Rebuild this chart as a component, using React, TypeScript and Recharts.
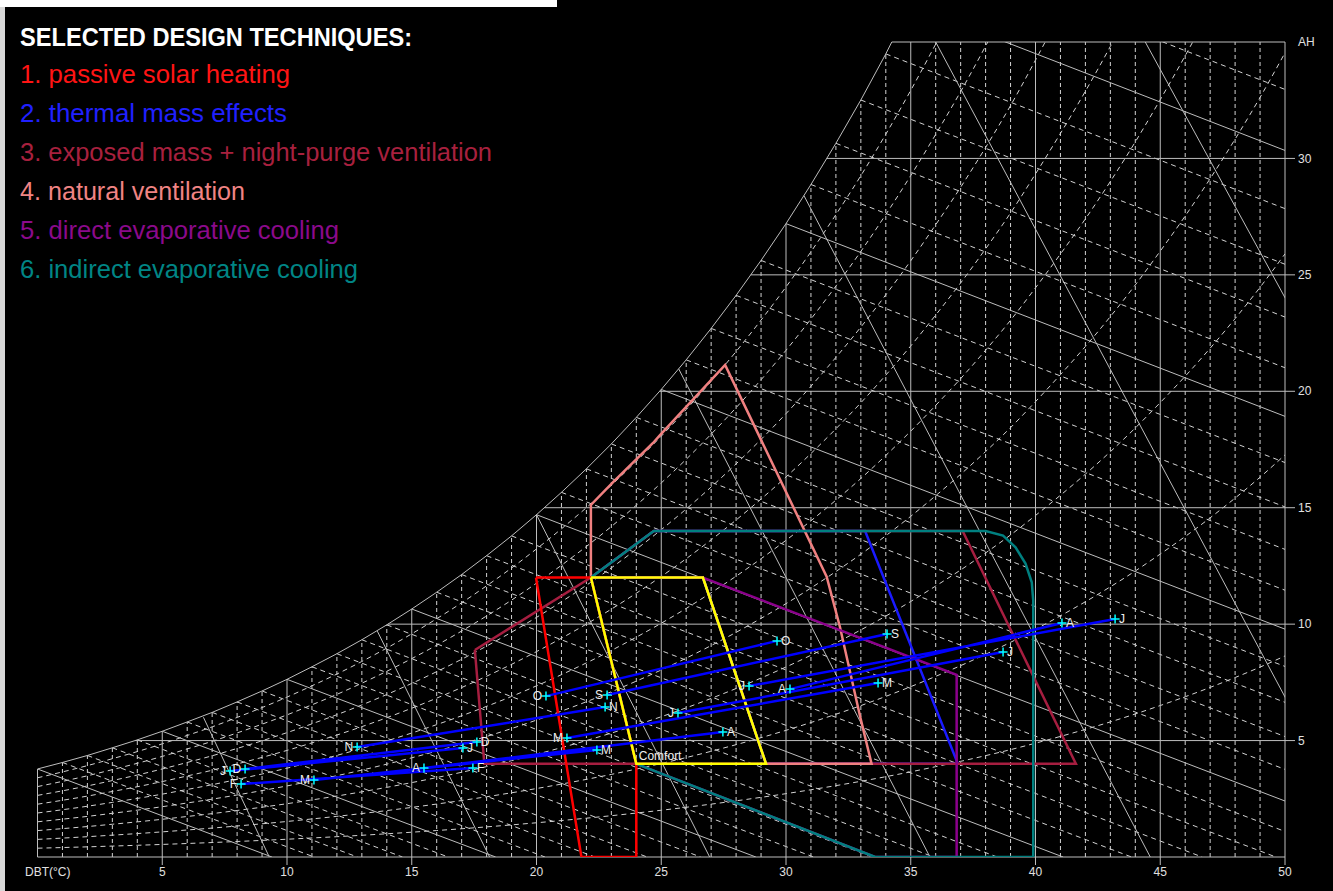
import React from 'react';
import { ComposedChart, Line, Scatter, XAxis, YAxis, ReferenceLine } from 'recharts';

// ---------- axes ----------
const X_TICKS = [0, 5, 10, 15, 20, 25, 30, 35, 40, 45, 50];
const Y_TICKS = [5, 10, 15, 20, 25, 30, 35];

// ---------- saturation curve: absolute humidity (g/kg) at each whole DBT (°C) ----------
const SAT_DBT = [0, 1, 2, 3, 4, 5, 6, 7, 8, 9, 10, 11, 12, 13, 14, 15, 16, 17, 18, 19, 20, 21, 22, 23, 24, 25,
  26, 27, 28, 29, 30, 31, 32, 33, 34, 35, 36, 37, 38, 39, 40, 41, 42, 43, 44, 45, 46, 47, 48, 49, 50];
const SAT_AH = [3.78, 4.06, 4.36, 4.69, 5.03, 5.40, 5.80, 6.21, 6.66, 7.13, 7.63, 8.17, 8.73, 9.33, 9.97, 10.65,
  11.37, 12.13, 12.94, 13.79, 14.70, 15.66, 16.67, 17.74, 18.88, 20.08, 21.35, 22.70, 24.12, 25.62, 27.20,
  28.88, 30.65, 32.51, 34.49, 36.58, 38.79, 41.09, 43.53, 46.10, 48.89, 51.79, 54.81, 58.02, 61.42, 65.05,
  68.82, 72.83, 77.07, 81.55, 86.34];
const SAT_TOP_DBT = 34.24; // saturation curve meets AH 35
// DBT where each AH gridline (5..30) starts on the saturation curve
const H_GRID_AH = [5, 10, 15, 20, 25, 30];
const H_GRID_START = [3.91, 14.05, 20.31, 24.93, 28.59, 31.63];

// ---------- chart grid families ----------
const RH_LEVELS = [0.1, 0.2, 0.3, 0.4, 0.5, 0.6, 0.7, 0.8, 0.9];
const WBT_LEVELS = [0, 1, 2, 3, 4, 5, 6, 7, 8, 9, 10, 11, 12, 13, 14, 15, 16, 17, 18, 19, 20, 21, 22, 23, 24, 25,
  26, 27, 28, 29, 30, 31, 32, 33, 34, 35, 36];
// specific volume lines (0.800 ... 0.950 m³/kg): bottom DBT at AH 0, top end on saturation / top edge
const VOL_BOTTOM_DBT = [9.29, 18.12, 26.94, 35.77, 44.6, 53.42, 62.25];
const VOL_TOP_DBT = [6.65, 13.62, 20.0, 25.7, 30.72, 36.0, 44.4];
const VOL_TOP_AH = [6.0, 9.7, 14.7, 20.96, 28.4, 35, 35];

// ---------- design technique zones (DBT °C, AH g/kg) ----------
const SOLAR_DBT = [19.98, 21.8, 24.0, 24.0, 22.18, 19.98];
const SOLAR_AH = [12, 0, 0, 4, 12, 12];
const THERMAL_DBT = [24.7, 33.17, 36.89, 29.2, 26.67, 22.18, 24.7];
const THERMAL_AH = [14, 14, 4, 4, 12, 12, 14];
const NIGHT_DBT = [17.53, 22.18, 24.7, 37.08, 41.62, 17.91, 17.53];
const NIGHT_AH = [8.89, 12, 14, 14, 4, 4, 8.89];
const NATVENT_DBT = [22.18, 22.18, 23.07, 24.67, 24.95, 27.56, 31.63, 32.16, 32.97, 33.43, 29.2, 26.67, 22.18];
const NATVENT_AH = [12, 15.12, 16.1, 17.78, 18.12, 21.13, 12.04, 9.89, 6.03, 4, 4, 12, 12];
const DIRECT_DBT = [26.67, 36.84, 36.84, 33.57, 24.0, 22.18, 26.67];
const DIRECT_AH = [12, 7.82, 0, 0, 4, 12, 12];
const INDIRECT_DBT = [22.18, 24.7, 38.0, 38.7, 39.2, 39.6, 39.85, 39.91, 39.91, 33.57, 24.0, 22.18];
const INDIRECT_AH = [12, 14, 14, 13.8, 13.3, 12.6, 11.8, 11.0, 0, 0, 4, 12];
const COMFORT_DBT = [22.18, 26.67, 29.2, 24.0, 22.18];
const COMFORT_AH = [12, 12, 4, 4, 12];
const COMFORT_LABEL = { x: 24.1, y: 4.15, text: 'Comfort' };

// ---------- monthly climate lines ----------
const MONTHS = ['J', 'F', 'M', 'A', 'M', 'J', 'J', 'A', 'S', 'O', 'N', 'D'];
const MIN_DBT = [7.72, 8.16, 11.08, 15.49, 21.22, 25.67, 28.52, 30.16, 22.83, 20.38, 12.81, 8.32];
const MIN_AH = [3.69, 3.13, 3.31, 3.82, 5.11, 6.18, 7.34, 7.21, 6.96, 6.91, 4.72, 3.78];
const MAX_DBT = [17.05, 17.45, 22.42, 27.47, 33.69, 38.70, 43.19, 41.06, 34.05, 29.64, 22.75, 17.61];
const MAX_AH = [4.68, 3.82, 4.60, 5.37, 7.47, 8.80, 10.22, 10.05, 9.58, 9.28, 6.44, 4.94];

// ---------- legend ----------
const LEGEND_TITLE = 'SELECTED DESIGN TECHNIQUES:';
const LEGEND_ITEMS = [
  '1. passive solar heating',
  '2. thermal mass effects',
  '3. exposed mass + night-purge ventilation',
  '4. natural ventilation',
  '5. direct evaporative cooling',
  '6. indirect evaporative cooling',
];

// ---------- styles / layout ----------
const COLORS = {
  solar: '#ff0000', thermal: '#1a1aff', night: '#a61e40', natvent: '#f08080',
  direct: '#8b008b', indirect: '#008080', comfort: '#ffff00',
};
const LEGEND_COLORS = ['#ff1414', '#2020ff', '#a8203e', '#f08484', '#8b0a8b', '#008585'];
const LEGEND_WIDTHS = [270, 267, 472, 225, 319, 338];
const GRID_SOLID = '#bdbdbd';
const GRID_DASH = '#d2d2d2';
const FONT = '"Liberation Sans", Arial, sans-serif';
const W = 1333;
const H = 891;

type P = { x: number; y: number | null };
const segs = (list: number[][]): P[] =>
  list.flatMap(([x1, y1, x2, y2]) => [{ x: x1, y: y1 }, { x: x2, y: y2 }, { x: x2, y: null }]);
const poly = (xs: number[], ys: number[]): P[] => xs.map((x, i) => ({ x, y: ys[i] }));

const vDashed = segs(
  SAT_DBT.filter((t) => t > 0 && t < 50 && t % 5 !== 0).map((t) => [t, 0, t, Math.min(SAT_AH[t], 35)]),
);
const vSolid = segs(
  X_TICKS.filter((t) => t > 0 && t < 50).map((t) => [t, 0, t, Math.min(SAT_AH[t], 35)]),
);
const hSolid = segs(H_GRID_AH.map((a, i) => [H_GRID_START[i], a, 50, a]));
const rhCurves: P[] = RH_LEVELS.flatMap((p) => [
  ...SAT_DBT.map((t, i) => ({ x: t, y: p * SAT_AH[i] })),
  { x: 50, y: null },
]);
const wbtSeg = (tw: number) => {
  const ws = SAT_AH[tw];
  const tEnd = tw + ((2501 - 2.326 * tw) * ws) / 1000 / 1.006;
  return [tw, ws, tEnd, 0];
};
const wbtDashed = segs(WBT_LEVELS.filter((t) => t % 5 !== 0).map(wbtSeg));
const wbtSolid = segs(WBT_LEVELS.filter((t) => t % 5 === 0).map(wbtSeg));
const volSolid = segs(VOL_BOTTOM_DBT.map((b, i) => [b, 0, VOL_TOP_DBT[i], VOL_TOP_AH[i]]));

const satCurve: P[] = [
  ...SAT_DBT.filter((t) => t <= 34).map((t, i) => ({ x: t, y: SAT_AH[i] })),
  { x: SAT_TOP_DBT, y: 35 },
];

const monthLines = segs(MONTHS.map((_, i) => [MIN_DBT[i], MIN_AH[i], MAX_DBT[i], MAX_AH[i]]));
const monthPoints = MONTHS.flatMap((m, i) => [
  { x: MIN_DBT[i], y: MIN_AH[i], label: m, side: 'min' },
  { x: MAX_DBT[i], y: MAX_AH[i], label: m, side: 'max' },
]);

const lp = {
  dot: false,
  activeDot: false,
  isAnimationActive: false,
  legendType: 'none' as const,
  connectNulls: false,
  type: 'linear' as const,
  dataKey: 'y',
};

const XTick = (props: any) => {
  const { x, y, payload } = props;
  if (payload.value === 0) {
    return (
      <text x={x - 12.5} y={y + 10} dy="0.71em" fill="#e0e0e0" fontSize={12} fontFamily={FONT} textAnchor="start">
        DBT(°C)
      </text>
    );
  }
  return (
    <g>
      <line x1={x} y1={y} x2={x} y2={y + 8} stroke={GRID_SOLID} strokeWidth={1} />
      <text x={x} y={y + 10} dy="0.71em" fill="#e0e0e0" fontSize={12} fontFamily={FONT} textAnchor="middle">
        {payload.value}
      </text>
    </g>
  );
};

const YTick = (props: any) => {
  const { x, y, payload } = props;
  if (payload.value === 35) {
    return (
      <text x={x + 13} y={y} dy="0.35em" fill="#e0e0e0" fontSize={12} fontFamily={FONT} textAnchor="start">
        AH
      </text>
    );
  }
  return (
    <g>
      <line x1={x} y1={y} x2={x + 10} y2={y} stroke={GRID_SOLID} strokeWidth={1} />
      <text x={x + 13} y={y} dy="0.35em" fill="#e0e0e0" fontSize={12} fontFamily={FONT} textAnchor="start">
        {payload.value}
      </text>
    </g>
  );
};

const MarkerShape = (props: any) => {
  const { cx, cy, payload } = props;
  if (cx == null || cy == null) return <g />;
  const isMin = payload.side === 'min';
  return (
    <g>
      <path d={`M${cx - 4.5},${cy}H${cx + 4.5}M${cx},${cy - 4.5}V${cy + 4.5}`} stroke="#00ffff" strokeWidth={1.5} />
      <text
        x={isMin ? cx - 4 : cx + 4}
        y={cy}
        dy="0.36em"
        fill="#f0f0f0"
        fontSize={12}
        fontFamily={FONT}
        textAnchor={isMin ? 'end' : 'start'}
      >
        {payload.label}
      </text>
    </g>
  );
};

const ComfortShape = (props: any) => {
  const { cx, cy, payload } = props;
  if (cx == null || cy == null) return <g />;
  return (
    <text x={cx} y={cy} fill="#f0f0f0" fontSize={12} fontFamily={FONT} textAnchor="start">
      {payload.text}
    </text>
  );
};

export default function App() {
  return (
    <div style={{ position: 'fixed', left: 0, top: 0, width: W, height: H, background: '#000', overflow: 'hidden' }}>
      <ComposedChart width={W} height={H} margin={{ top: 42, right: 18, bottom: 14, left: 37.5 }}>
        <XAxis
          type="number"
          dataKey="x"
          domain={[0, 50]}
          allowDataOverflow
          ticks={X_TICKS}
          interval={0}
          axisLine={false}
          tickLine={false}
          tickSize={0}
          tickMargin={0}
          height={20}
          tick={(p: any) => <XTick {...p} />}
        />
        <YAxis
          type="number"
          dataKey="y"
          orientation="right"
          domain={[0, 35]}
          allowDataOverflow
          ticks={Y_TICKS}
          interval={0}
          axisLine={false}
          tickLine={false}
          tickSize={0}
          tickMargin={0}
          width={30}
          tick={(p: any) => <YTick {...p} />}
        />

        {/* grid */}
        <Line {...lp} data={vDashed} stroke={GRID_DASH} strokeWidth={1} strokeDasharray="4 3" />
        <Line {...lp} data={rhCurves} type="monotone" stroke={GRID_DASH} strokeWidth={1} strokeDasharray="5 4" />
        <Line {...lp} data={wbtDashed} stroke={GRID_DASH} strokeWidth={1} strokeDasharray="5 4" />
        <Line {...lp} data={vSolid} stroke={GRID_SOLID} strokeWidth={1} />
        <Line {...lp} data={hSolid} stroke={GRID_SOLID} strokeWidth={1} />
        <Line {...lp} data={wbtSolid} stroke={GRID_SOLID} strokeWidth={1} />
        <Line {...lp} data={volSolid} stroke={GRID_SOLID} strokeWidth={1} />
        <Line {...lp} data={satCurve} stroke={GRID_SOLID} strokeWidth={1} />

        {/* chart borders */}
        <ReferenceLine segment={[{ x: 0, y: 0 }, { x: 0, y: SAT_AH[0] }]} stroke={GRID_SOLID} strokeWidth={1} ifOverflow="visible" />
        <ReferenceLine segment={[{ x: 0, y: 0 }, { x: 50, y: 0 }]} stroke={GRID_SOLID} strokeWidth={1} ifOverflow="visible" />
        <ReferenceLine segment={[{ x: 50, y: 0 }, { x: 50, y: 35 }]} stroke={GRID_SOLID} strokeWidth={1} ifOverflow="visible" />
        <ReferenceLine segment={[{ x: SAT_TOP_DBT, y: 35 }, { x: 50, y: 35 }]} stroke={GRID_SOLID} strokeWidth={1} ifOverflow="visible" />

        {/* zones */}
        <Line {...lp} data={poly(THERMAL_DBT, THERMAL_AH)} stroke={COLORS.thermal} strokeWidth={2.5} />
        <Line {...lp} data={poly(NIGHT_DBT, NIGHT_AH)} stroke={COLORS.night} strokeWidth={2.5} />
        <Line {...lp} data={poly(NATVENT_DBT, NATVENT_AH)} stroke={COLORS.natvent} strokeWidth={2.5} />
        <Line {...lp} data={poly(DIRECT_DBT, DIRECT_AH)} stroke={COLORS.direct} strokeWidth={2.5} />
        <Line {...lp} data={poly(INDIRECT_DBT, INDIRECT_AH)} stroke={COLORS.indirect} strokeWidth={2.5} />
        <Line {...lp} data={poly(SOLAR_DBT, SOLAR_AH)} stroke={COLORS.solar} strokeWidth={2.5} />
        <Line {...lp} data={poly(COMFORT_DBT, COMFORT_AH)} stroke={COLORS.comfort} strokeWidth={2.5} />

        {/* monthly lines */}
        <Line {...lp} data={monthLines} stroke="#0000ff" strokeWidth={2.5} />
        <Scatter data={monthPoints} dataKey="y" shape={(p: any) => <MarkerShape {...p} />} isAnimationActive={false} legendType="none" />
        <Scatter data={[COMFORT_LABEL]} dataKey="y" shape={(p: any) => <ComfortShape {...p} />} isAnimationActive={false} legendType="none" />
      </ComposedChart>

      <svg width={W} height={H} style={{ position: 'absolute', left: 0, top: 0, pointerEvents: 'none' }}>
        <text x={20} y={46} fontSize={26} fontWeight="bold" fill="#ffffff" fontFamily={FONT} textLength={392} lengthAdjust="spacingAndGlyphs">
          {LEGEND_TITLE}
        </text>
        {LEGEND_ITEMS.map((t, i) => (
          <text
            key={t}
            x={20}
            y={83 + i * 39}
            fontSize={25}
            fill={LEGEND_COLORS[i]}
            fontFamily={FONT}
            textLength={LEGEND_WIDTHS[i]}
            lengthAdjust="spacingAndGlyphs"
          >
            {t}
          </text>
        ))}
      </svg>
      <div style={{ position: 'absolute', left: 0, top: 0, width: 557, height: 7, background: '#ffffff' }} />
      <div style={{ position: 'absolute', left: 0, top: 7, width: 5, height: H - 7, background: '#d8d8d8' }} />
    </div>
  );
}
